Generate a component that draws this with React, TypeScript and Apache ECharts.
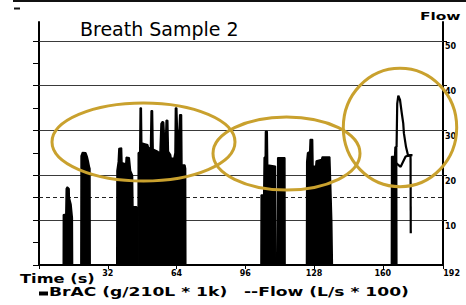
import React, { useEffect, useRef } from "react";
import * as echarts from "echarts";

// ---- data (time in s, values on the 0-50 scale) ----
const timeLabelsMax = 192;
const timeTickStep = 32;
const gridSolid = [10, 20, 30, 40, 50];
const gridDashed = [15];
const leftTicks = [0, 5, 10, 15, 20, 25, 30, 35, 40, 45, 50];
const rightLabels = [10, 20, 30, 40, 50];

const bracBurst1 = [[11.3, 0], [11.35, 11.2], [12.5, 11.3], [12.7, 17.0], [13.2, 17.4], [14.0, 17.0], [14.1, 15.0], [14.9, 13.5], [15.5, 10.5], [15.6, 0]];
const bracBurst2 = [[19.5, 0], [19.6, 24.3], [20.2, 25.1], [21.8, 25.0], [22.4, 24.2], [22.9, 23.2], [23.4, 22.0], [23.7, 21.5], [23.8, 0]];
const bracBurst3 = [[36.2, 0], [36.3, 21], [36.9, 23], [37.2, 26], [38.4, 26.1], [38.6, 22.8], [40.4, 22.5], [40.6, 24], [42.0, 23.9], [42.6, 21], [43.5, 20], [43.7, 13], [45.4, 13], [45.5, 0]];
const bracBurst4 = [[46.1, 0], [46.2, 25], [46.9, 25.2], [47.1, 35], [47.6, 35], [47.8, 27.2], [49.3, 27], [50.6, 26.8], [51.0, 26], [51.9, 26.2], [52.2, 34.4], [52.8, 34.4], [53.1, 25.8], [55.3, 25.3], [56.3, 25], [56.8, 31.5], [57.5, 32], [58.0, 31.8], [58.3, 29], [59.0, 29.2], [59.2, 32.3], [59.9, 32.2], [60.2, 25.3], [61.2, 24.6], [61.5, 23.8], [62.8, 23.8], [63.3, 25], [63.5, 35], [64.1, 35], [64.4, 30], [65.2, 30], [65.5, 33.5], [66.3, 33.5], [66.5, 22.3], [67.9, 22.3], [68.2, 21.5], [68.3, 0]];
const bracBurst5 = [[103.3, 0], [103.4, 15.6], [104.6, 15.6], [104.8, 24], [105.3, 24], [105.4, 29.8], [106.2, 29.8], [106.4, 22.3], [110.0, 22], [110.3, 0], [111.0, 0], [111.1, 23.9], [114.4, 23.9], [114.5, 0]];
const bracBurst6 = [[124.5, 0], [124.6, 23], [125.0, 25], [126.0, 25.3], [126.2, 28], [127.3, 28], [127.5, 22], [128.8, 22], [129.0, 23.2], [131.5, 23.5], [131.8, 24.1], [135.3, 24.1], [135.7, 18], [136.2, 10], [136.5, 0]];
const bracBurst7 = [[164.0, 0], [164.1, 24.2], [165.5, 24.2], [165.7, 26.3], [166.4, 26.3], [166.5, 0]];

const flowRise = [[166.4, 26.3], [166.7, 36], [167.2, 37.8], [168.0, 36.8], [168.8, 33.9], [169.5, 31.6], [169.8, 29.4], [170.8, 26.3], [171.8, 24.3], [172.6, 24.5], [173.8, 24.5]];
const flowLoop = [[166.2, 22.7], [168.3, 21.9], [170.6, 24.2], [172.6, 24.5]];
const flowDrop = [[172.9, 24.5], [173.0, 7.1]];

const bracData = [...bracBurst1, ...bracBurst2, ...bracBurst3, ...bracBurst4, ...bracBurst5, ...bracBurst6, ...bracBurst7];

const FONT = "DejaVu Sans";
const GOLD = "#C9A12E";

export default function App() {
  const ref = useRef<HTMLDivElement>(null);
  useEffect(() => {
    if (!ref.current) return;
    const chart = echarts.init(ref.current, undefined, { renderer: "svg" });
    const flowLine = (data: number[][]) => ({
      type: "line",
      name: "Flow",
      xAxisIndex: 0,
      yAxisIndex: 0,
      data,
      symbol: "none",
      showSymbol: false,
      z: 4,
      lineStyle: { color: "#000", width: 2.2 },
      emphasis: { disabled: true },
    });
    chart.setOption({
      animation: false,
      backgroundColor: "#fff",
      grid: [
        { left: 39, top: 22, width: 404, height: 243 },
        { left: 39, top: 22, width: 412.6, height: 243 },
      ],
      xAxis: [
        {
          gridIndex: 0, type: "value", min: 0, max: 188, interval: timeTickStep,
          axisLine: { show: true, onZero: false, lineStyle: { color: "#000", width: 2 } },
          axisTick: { show: true, length: 4, lineStyle: { color: "#000", width: 1 } },
          axisLabel: { show: false },
          splitLine: { show: false },
        },
        {
          gridIndex: 1, type: "value", min: 0, max: timeLabelsMax, interval: timeTickStep,
          axisLine: { show: false, onZero: false },
          axisTick: { show: false },
          axisLabel: {
            show: true, fontSize: 8, fontWeight: "bold", fontFamily: FONT, color: "#000", margin: 4,
            formatter: (v: number) => (v === 0 ? "" : String(v)),
          },
          splitLine: { show: false },
        },
      ],
      yAxis: [
        {
          gridIndex: 0, type: "value", min: 0, max: 54.2, interval: 5, position: "left",
          axisLine: { show: true, onZero: false, lineStyle: { color: "#000", width: 2 } },
          axisTick: { show: true, length: 6, customValues: leftTicks, lineStyle: { color: "#000", width: 1 } },
          axisLabel: { show: false },
          splitLine: { show: false },
        },
        {
          gridIndex: 0, type: "value", min: 0, max: 54.2, interval: 10, position: "right",
          axisLine: { show: true, onZero: false, lineStyle: { color: "#000", width: 2 } },
          axisTick: { show: true, length: 4, customValues: rightLabels, lineStyle: { color: "#000", width: 1 } },
          axisLabel: {
            show: true, customValues: rightLabels, fontSize: 8, fontWeight: "bold", fontFamily: FONT,
            color: "#000", margin: 2, verticalAlign: "top", padding: [2, 0, 0, 0],
          },
          splitLine: { show: false },
        },
        { gridIndex: 1, type: "value", min: 0, max: 54.2, show: false },
      ],
      series: [
        {
          type: "line",
          name: "BrAC",
          xAxisIndex: 0,
          yAxisIndex: 0,
          data: bracData,
          symbol: "none",
          showSymbol: false,
          z: 3,
          lineStyle: { color: "#000", width: 1.6 },
          areaStyle: { color: "#000", opacity: 1 },
          emphasis: { disabled: true },
          markLine: {
            silent: true,
            z: 1,
            symbol: ["none", "none"],
            label: { show: false },
            lineStyle: { color: "#3a3a3a", width: 1, type: "solid" },
            data: [
              ...gridSolid.map((v) => ({ yAxis: v })),
              ...gridDashed.map((v) => ({ yAxis: v, lineStyle: { type: [4, 3], color: "#222", width: 1 } })),
            ],
          },
        },
        flowLine(flowRise),
        flowLine(flowLoop),
        flowLine(flowDrop),
      ],
      graphic: [
        { type: "line", z: 100, shape: { x1: 13, y1: 1, x2: 466, y2: 1 }, style: { stroke: "#111", lineWidth: 2 } },
        { type: "line", z: 100, shape: { x1: 14, y1: 8.5, x2: 20, y2: 8.5 }, style: { stroke: "#111", lineWidth: 2 } },
        {
          type: "text", z: 100, x: 80, y: 29,
          style: { text: "Breath Sample 2", fontSize: 19, fontFamily: FONT, fill: "#000", align: "left", verticalAlign: "middle" },
        },
        {
          type: "text", z: 100, x: 420, y: 16, scaleX: 1.4,
          style: { text: "Flow", fontSize: 11, fontWeight: "bold", fontFamily: FONT, fill: "#000", align: "left", verticalAlign: "middle" },
        },
        {
          type: "text", z: 100, x: 20, y: 279, scaleX: 1.3,
          style: { text: "Time (s)", fontSize: 12.5, fontWeight: "bold", fontFamily: FONT, fill: "#000", align: "left", verticalAlign: "middle" },
        },
        { type: "rect", z: 100, shape: { x: 39, y: 291.5, width: 9, height: 4 }, style: { fill: "#000" } },
        {
          type: "text", z: 100, x: 49, y: 292, scaleX: 1.37,
          style: { text: "BrAC (g/210L * 1k)", fontSize: 12.5, fontWeight: "bold", fontFamily: FONT, fill: "#000", align: "left", verticalAlign: "middle" },
        },
        {
          type: "text", z: 100, x: 244, y: 292, scaleX: 1.37,
          style: { text: "--Flow (L/s * 100)", fontSize: 12.5, fontWeight: "bold", fontFamily: FONT, fill: "#000", align: "left", verticalAlign: "middle" },
        },
        { type: "ellipse", z: 110, shape: { cx: 143.5, cy: 142, rx: 91.5, ry: 39 }, style: { fill: "none", stroke: GOLD, lineWidth: 3 } },
        { type: "ellipse", z: 110, shape: { cx: 286.5, cy: 153.5, rx: 73.5, ry: 36.5 }, style: { fill: "none", stroke: GOLD, lineWidth: 3 } },
        { type: "ellipse", z: 110, shape: { cx: 400, cy: 127.5, rx: 56.7, ry: 59.2 }, style: { fill: "none", stroke: GOLD, lineWidth: 3 } },
      ],
    });
    return () => chart.dispose();
  }, []);
  return (
    <div
      ref={ref}
      style={{ position: "fixed", left: 0, top: 0, width: 466, height: 305, background: "#fff" }}
    />
  );
}
